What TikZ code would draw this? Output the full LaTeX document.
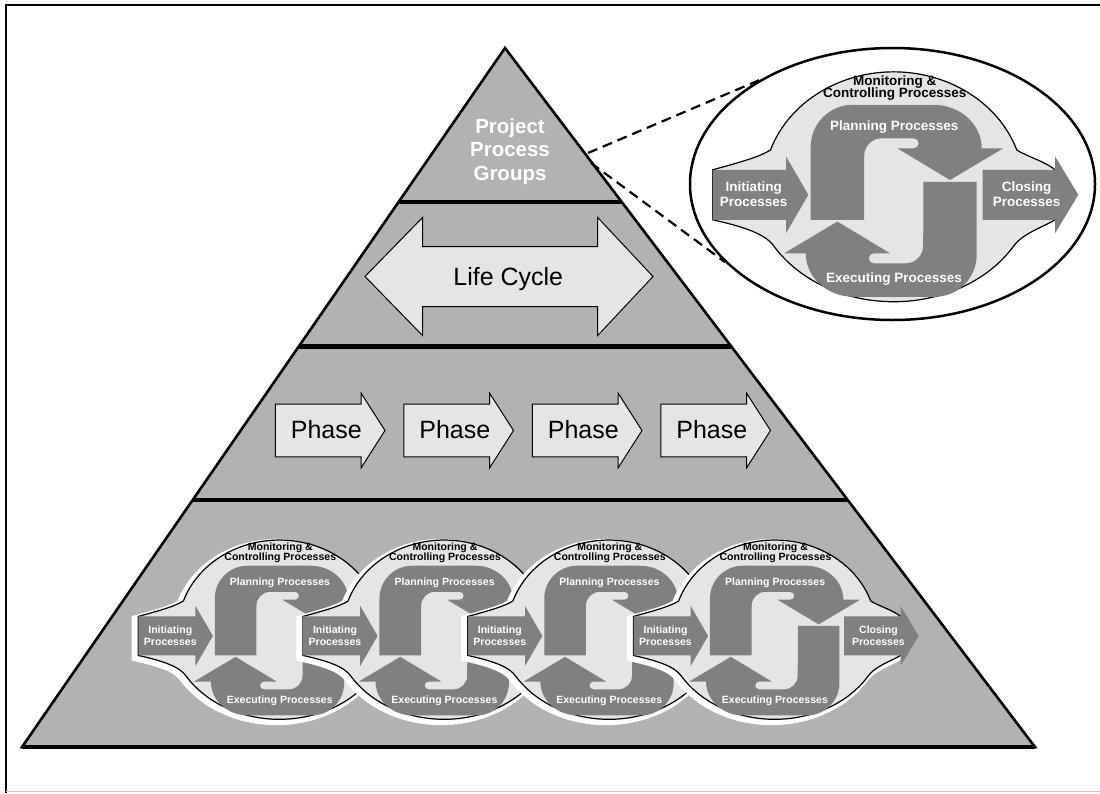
\documentclass[tikz,border=0pt]{standalone}
\usepackage{fontspec}
\setmainfont{Liberation Sans}
\usetikzlibrary{shapes.geometric}
\definecolor{pmpyr}{RGB}{178,178,178}
\definecolor{pmlight}{RGB}{229,229,229}
\definecolor{pmdark}{RGB}{128,128,128}
\definecolor{pmframe}{RGB}{200,200,200}
\tikzset{
 pmlightpath/.style={insert path={(-181,-31) .. controls (-152,-39) and (-134,-44) .. (-123.2,-50.8)
   arc[start angle=198.7,end angle=341.3,x radius=130,y radius=115]
   .. controls (134,-44) and (152,-39) .. (161.3,-31) -- (161.3,19)
   .. controls (150,26) and (128,33) .. (119.4,46)
   arc[start angle=31.5,end angle=148.5,x radius=140,y radius=115]
   .. controls (-128,33) and (-150,26) .. (-181,19) -- cycle}},
 pmplanpath/.style={insert path={(-83,19) -- (-83,-54) arc[start angle=180,end angle=270,radius=42]
   -- (40,-96) arc[start angle=270,end angle=360,x radius=48,y radius=43.5]
   -- (109.6,-52.5) -- (56.3,-20.8) -- (3.6,-52.5) -- (20,-52.5)
   arc[start angle=90,end angle=-90,radius=5] -- (-12,-62.5)
   arc[start angle=270,end angle=180,radius=17.5] -- (-29.7,19) -- cycle}},
 pminitpath/.style={insert path={(-181,-31) -- (-107.7,-31) -- (-107.7,-44.5) -- (-85.4,-6)
   -- (-107.7,32.5) -- (-107.7,19) -- (-181,19) -- cycle}},
 pmclosepath/.style={insert path={(89,-31) -- (161.3,-31) -- (161.3,-44.5) -- (184.6,-6)
   -- (161.3,32.5) -- (161.3,19) -- (89,19) -- cycle}},
 pmtxt/.style={font=\bfseries\fontsize{13.5}{15}\selectfont, text=white, align=center, inner sep=0pt, transform shape},
 pmmon/.style={pmtxt, text=black, font=\bfseries\fontsize{13.5}{12.8}\selectfont},
 pics/pmhalo/.style={code={
   \path[fill=white, draw=white, line width=7pt, shift={(-4,3)}, pmlightpath];
 }},
 pics/pmcycle/.style={code={
   \path[fill=pmlight, draw=black, line width=1.2pt, pmlightpath];
   \path[fill=pmdark, pmplanpath];
   \path[fill=pmdark, rotate=180, pmplanpath];
   \path[fill=pmdark, pminitpath];
   \node[pmmon] (-mon) at (1,-112.8) {Monitoring \&\\Controlling Processes};
   \node[pmtxt] (-plan) at (0.6,-73.6) {Planning Processes};
   \node[pmtxt] (-exec) at (0.3,77.8) {Executing Processes};
   \node[pmtxt] (-init) at (-140,-6.5) {Initiating\\Processes};
 }},
 pics/pmclose/.style={code={
   \path[fill=pmdark, pmclosepath];
   \node[pmtxt] (-close) at (133,-6.5) {Closing\\Processes};
 }},
 bigtxt/.style={font=\fontsize{25}{30}\selectfont, inner sep=0pt, anchor=base},
 lightbox/.style={fill=pmlight, draw=black, line width=1pt, line join=miter},
 bandline/.style={line width=4.6pt},
 dashline/.style={dash pattern=on 10pt off 6pt, line width=2.2pt},
}
\begin{document}
\begin{tikzpicture}[x=1pt,y=-1pt]
\useasboundingbox (0,0) rectangle (1100,793);
\fill[white] (0,0) rectangle (1100,793);
% frame
\draw[line width=2.7pt] (4.8,5) -- (1100,5);
\draw[line width=2.4pt] (6,3.7) -- (6,793);
\draw[pmframe, line width=1.3pt] (6,791.5) -- (1100,791.5);
% pyramid
\fill[pmpyr] (505,48) -- (1035,747) -- (22,747) -- cycle;
\begin{scope}
 \clip (505,48) -- (1035,747) -- (22,747) -- cycle;
 \draw[bandline] (0,202) -- (1100,202) (0,346.5) -- (1100,346.5) (0,500) -- (1100,500);
\end{scope}
\draw[line width=2.6pt, line join=miter] (505,48) -- (1035,747) -- (22,747) -- cycle;
\draw[line width=3.6pt] (22,747) -- (1035,747);
% top band
\node[font=\bfseries\fontsize{20.5}{23.2}\selectfont, text=white, align=center, inner sep=0pt] (ppg) at (510,151.5) {Project\\Process\\Groups};
% life cycle
\path[lightbox] (365,276.5) -- (422.7,217.3) -- (422.7,246.7) -- (597.5,246.7) -- (597.5,217.3) -- (653,276.5)
  -- (597.5,335.7) -- (597.5,306.7) -- (422.7,306.7) -- (422.7,335.7) -- cycle;
\node[bigtxt] (lc) at (508.3,285) {Life Cycle};
% phases
\foreach \i/\x in {1/275.3,2/403.8,3/532.3,4/660.8}{
  \path[lightbox, shift={(\x,430.5)}] (0,-26.3) -- (85.7,-26.3) -- (85.7,-37.5) -- (109.7,0) -- (85.7,37.5) -- (85.7,26.3) -- (0,26.3) -- cycle;
  \node[bigtxt] (ph\i) at (\x+51,438.5) {Phase};
}
% small cycles
\foreach \i/\cx in {1/279.5,2/444.2,3/609,4/774.7}{
  \pic[scale=0.78] at (\cx,640.6) {pmhalo};
  \pic[scale=0.78] (s\i) at (\cx,640.6) {pmcycle};
}
\pic[scale=0.78] (s4c) at (774.7,640.6) {pmclose};
% zoom ellipse
\node[ellipse, draw, fill=white, line width=2.5pt, minimum width=405pt, minimum height=272pt, inner sep=0pt] (zoom) at (892.5,184) {};
\coordinate (pyrA) at (588,153);
\coordinate (pyrB) at (591,163);
\draw[dashline] (pyrA) -- (zoom.142.5);
\draw[dashline] (pyrB) -- (zoom.205);
\pic (big) at (893.7,200.8) {pmcycle};
\pic (bigc) at (893.7,200.8) {pmclose};
\end{tikzpicture}
\end{document}
